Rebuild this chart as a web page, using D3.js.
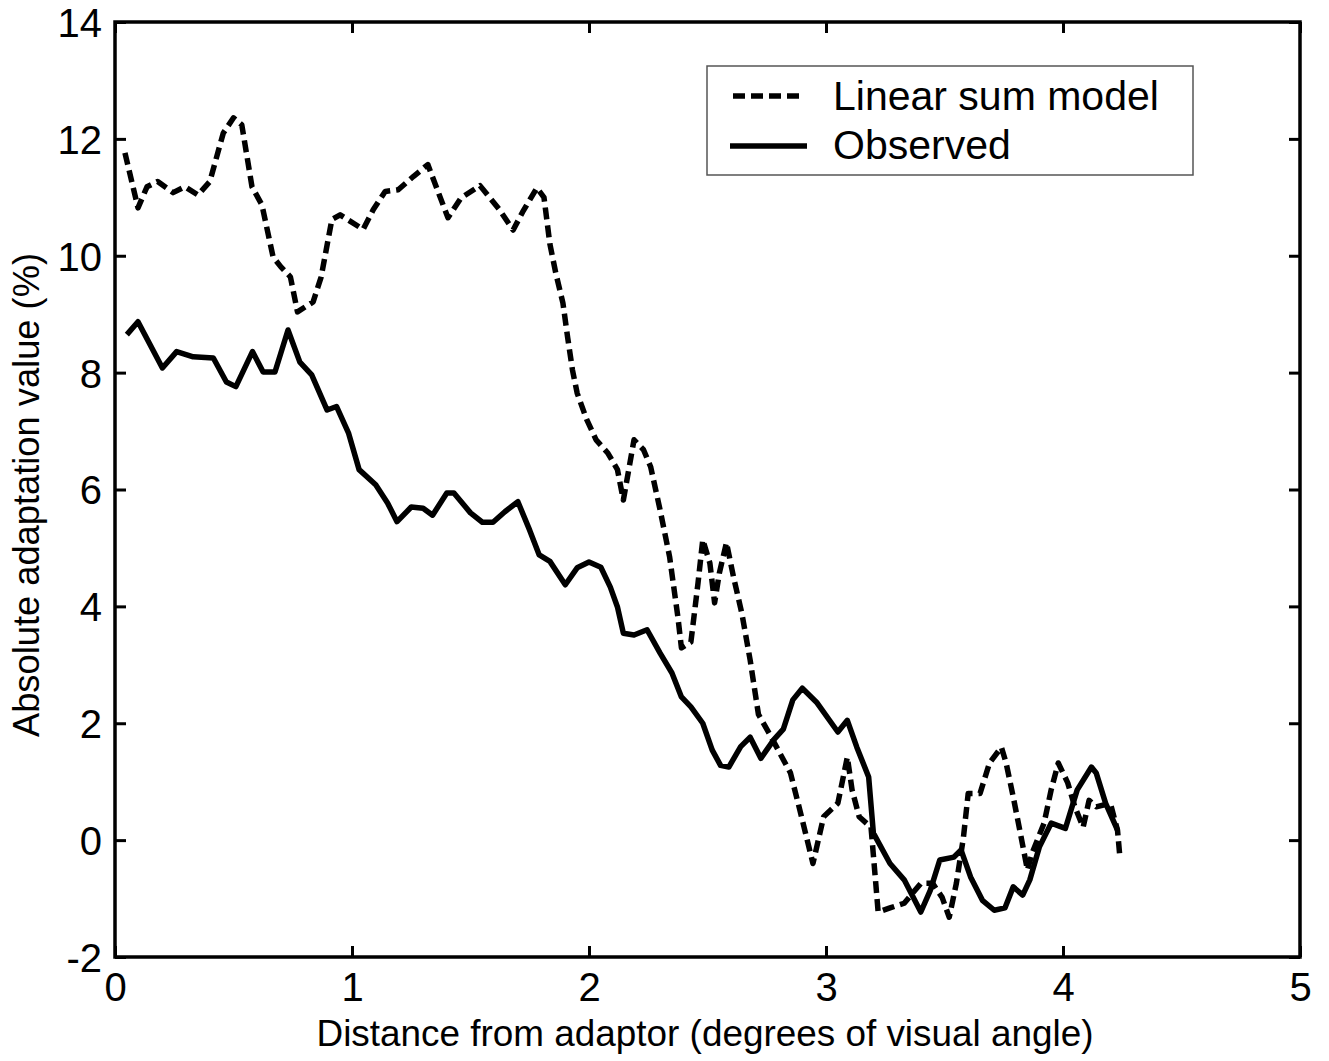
<!DOCTYPE html>
<html>
<head>
<meta charset="utf-8">
<script src="https://cdn.jsdelivr.net/npm/d3@7"></script>
<style>
  html, body { margin: 0; padding: 0; background: #fff; }
  svg { display: block; font-family: "Liberation Sans", Arial, Helvetica, sans-serif; }
</style>
</head>
<body>
<svg id="chart" width="1329" height="1061"></svg>
<script>
// ---- Data ----
const modelX = [0.042,0.097,0.135,0.18,0.245,0.295,0.35,0.40,0.457,0.50,0.535,0.578,0.62,0.667,0.70,0.74,0.77,0.836,0.87,0.915,0.95,1.047,1.09,1.14,1.195,1.26,1.32,1.36,1.405,1.46,1.54,1.62,1.68,1.72,1.78,1.81,1.835,1.86,1.89,1.91,1.93,1.95,1.99,2.03,2.08,2.12,2.145,2.19,2.23,2.26,2.30,2.34,2.375,2.39,2.43,2.46,2.48,2.51,2.53,2.55,2.58,2.61,2.645,2.68,2.715,2.76,2.805,2.85,2.89,2.945,2.99,3.05,3.09,3.11,3.14,3.19,3.21,3.22,3.27,3.33,3.40,3.45,3.49,3.52,3.55,3.58,3.60,3.65,3.69,3.74,3.76,3.79,3.82,3.85,3.87,3.92,3.95,3.98,4.02,4.05,4.085,4.11,4.14,4.20,4.23,4.24];
const modelY = [11.76,10.82,11.18,11.27,11.08,11.18,11.04,11.27,12.1,12.36,12.24,11.18,10.87,9.98,9.81,9.64,9.04,9.21,9.64,10.62,10.7,10.45,10.79,11.1,11.13,11.36,11.56,11.13,10.65,10.99,11.2,10.8,10.44,10.75,11.16,11.0,10.2,9.7,9.19,8.6,8.05,7.65,7.2,6.85,6.62,6.34,5.82,6.85,6.68,6.39,5.65,4.85,3.82,3.29,3.39,4.4,5.14,4.74,4.06,4.57,5.09,4.5,3.88,3.08,2.15,1.83,1.49,1.15,0.51,-0.4,0.4,0.63,1.42,0.86,0.4,0.22,-0.74,-1.23,-1.16,-1.08,-0.74,-0.74,-0.98,-1.32,-0.74,0.05,0.8,0.8,1.32,1.59,1.32,0.74,0.12,-0.51,-0.22,0.29,0.86,1.32,0.98,0.57,0.22,0.68,0.57,0.63,0.17,-0.29];

const observedX = [0.05,0.097,0.20,0.26,0.33,0.415,0.47,0.51,0.58,0.625,0.675,0.73,0.78,0.83,0.895,0.935,0.985,1.03,1.10,1.15,1.19,1.25,1.30,1.34,1.40,1.43,1.50,1.55,1.595,1.645,1.70,1.75,1.79,1.835,1.90,1.95,2.0,2.05,2.09,2.12,2.145,2.19,2.245,2.30,2.35,2.39,2.43,2.48,2.52,2.555,2.59,2.64,2.68,2.725,2.78,2.82,2.86,2.90,2.96,3.05,3.09,3.13,3.18,3.20,3.27,3.33,3.40,3.44,3.48,3.54,3.57,3.61,3.66,3.71,3.755,3.79,3.83,3.86,3.90,3.95,4.01,4.06,4.12,4.14,4.18,4.23];
const observedY = [8.65,8.87,8.08,8.36,8.27,8.25,7.84,7.76,8.36,8.01,8.01,8.73,8.18,7.96,7.36,7.42,6.97,6.34,6.08,5.77,5.45,5.7,5.68,5.56,5.94,5.94,5.6,5.44,5.44,5.62,5.79,5.3,4.88,4.77,4.37,4.66,4.76,4.67,4.33,3.99,3.54,3.51,3.6,3.2,2.86,2.45,2.28,2.0,1.54,1.28,1.25,1.6,1.76,1.4,1.72,1.9,2.4,2.6,2.36,1.85,2.05,1.59,1.08,0.12,-0.4,-0.68,-1.23,-0.86,-0.34,-0.29,-0.17,-0.63,-1.03,-1.2,-1.16,-0.8,-0.94,-0.68,-0.12,0.29,0.2,0.86,1.25,1.15,0.63,0.17];

const xTicks = [0,1,2,3,4,5];
const yTicks = [-2,0,2,4,6,8,10,12,14];
const legendLabels = ["Linear sum model", "Observed"];
const xTitle = "Distance from adaptor (degrees of visual angle)";
const yTitle = "Absolute adaptation value (%)";

// ---- Drawing ----
const svg = d3.select("#chart");
const x = d3.scaleLinear().domain([0,5]).range([115,1300]);
const y = d3.scaleLinear().domain([-2,14]).range([957,22]);
const font = '"Liberation Sans", Arial, Helvetica, sans-serif';
const fmt = d => String(d); // plain hyphen-minus like the original

svg.append("rect").attr("width",1329).attr("height",1061).attr("fill","#fff");

// curves
const model = modelX.map((d,i)=>[d, modelY[i]]);
const observed = observedX.map((d,i)=>[d, observedY[i]]);
const line = d3.line().x(d=>x(d[0])).y(d=>y(d[1]));

svg.append("path").datum(observed)
  .attr("d", line).attr("fill","none").attr("stroke","#000")
  .attr("stroke-width",5.5).attr("stroke-linejoin","round");
svg.append("path").datum(model)
  .attr("d", line).attr("fill","none").attr("stroke","#000")
  .attr("stroke-width",5.5).attr("stroke-dasharray","12,6").attr("stroke-linejoin","round");

// axes
function styleAxis(g){
  g.select(".domain").remove();
  g.selectAll(".tick line").attr("stroke","#000").attr("stroke-width",3);
}
const gx = svg.append("g").attr("transform",`translate(0,${y(-2)})`)
  .call(d3.axisBottom(x).tickValues(xTicks).tickSizeInner(-11).tickSizeOuter(0).tickPadding(0).tickFormat(fmt));
styleAxis(gx);
gx.selectAll(".tick text").attr("y",44).attr("dy",0).attr("font-size",40).attr("font-family",font).attr("fill","#000");

const gxt = svg.append("g").attr("transform",`translate(0,${y(14)})`)
  .call(d3.axisTop(x).tickValues(xTicks).tickSizeInner(-11).tickSizeOuter(0).tickFormat(""));
styleAxis(gxt);

const gy = svg.append("g").attr("transform",`translate(${x(0)},0)`)
  .call(d3.axisLeft(y).tickValues(yTicks).tickSizeInner(-11).tickSizeOuter(0).tickPadding(0).tickFormat(fmt));
styleAxis(gy);
gy.selectAll(".tick text").attr("x",-13).attr("dy","0.36em").attr("font-size",40).attr("font-family",font).attr("fill","#000");

const gyr = svg.append("g").attr("transform",`translate(${x(5)},0)`)
  .call(d3.axisRight(y).tickValues(yTicks).tickSizeInner(-11).tickSizeOuter(0).tickFormat(""));
styleAxis(gyr);

// frame
svg.append("rect").attr("x",x(0)).attr("y",y(14)).attr("width",x(5)-x(0)).attr("height",y(-2)-y(14))
  .attr("fill","none").attr("stroke","#000").attr("stroke-width",3.5);

// titles
svg.append("text").attr("x",705).attr("y",1046).attr("text-anchor","middle")
  .attr("font-size",36).attr("font-family",font).attr("fill","#000")
  .attr("textLength",777).attr("lengthAdjust","spacingAndGlyphs").text(xTitle);
svg.append("text").attr("transform","translate(39,495) rotate(-90)").attr("text-anchor","middle")
  .attr("font-size",36).attr("font-family",font).attr("fill","#000")
  .attr("textLength",484).attr("lengthAdjust","spacingAndGlyphs").text(yTitle);

// legend
const lg = svg.append("g");
lg.append("rect").attr("x",707).attr("y",66).attr("width",486).attr("height",109)
  .attr("fill","#fff").attr("stroke","#555").attr("stroke-width",1.5);
lg.append("line").attr("x1",733).attr("x2",805).attr("y1",96).attr("y2",96)
  .attr("stroke","#000").attr("stroke-width",5.5).attr("stroke-dasharray","12,6");
lg.append("line").attr("x1",730).attr("x2",807).attr("y1",146).attr("y2",146)
  .attr("stroke","#000").attr("stroke-width",5.5);
lg.selectAll("text.leg").data(legendLabels).enter().append("text")
  .attr("class","leg").attr("x",833).attr("y",(d,i)=>110+i*49)
  .attr("font-size",41).attr("font-family",font).attr("fill","#000").text(d=>d);
</script>
</body>
</html>
